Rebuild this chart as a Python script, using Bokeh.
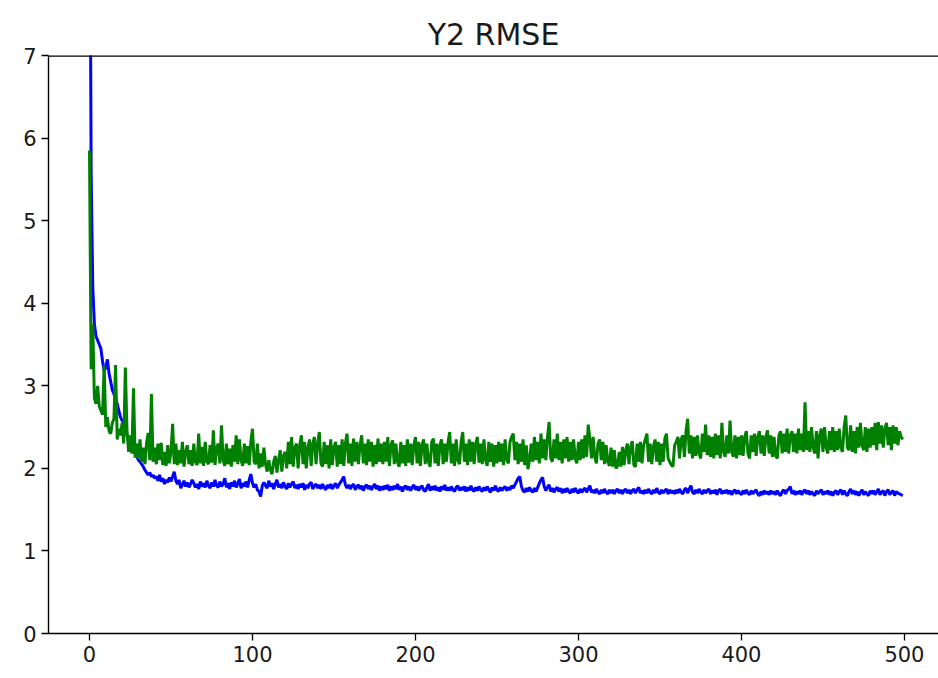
from bokeh.plotting import figure
from bokeh.models import Range1d, FixedTicker, Span
from bokeh.embed import file_html
from bokeh.resources import INLINE

title_text = "Y2 RMSE"
x_ticks = [0, 100, 200, 300, 400, 500]
y_ticks = [0, 1, 2, 3, 4, 5, 6, 7]

train_rmse = [
    10.5, 5.6, 4.2, 3.75, 3.6, 3.55, 3.5, 3.45, 3.3, 3.18, 3.22, 3.32, 3.15, 3.05, 2.95, 2.9, 2.85, 2.78, 2.7, 2.62,
    2.58, 2.55, 2.5, 2.4, 2.32, 2.28, 2.25, 2.2, 2.18, 2.15, 2.1, 2.08, 2.05, 2.02, 1.98, 1.95, 1.92, 1.95, 1.9, 1.92,
    1.88, 1.9, 1.85, 1.92, 1.84, 1.88, 1.81, 1.86, 1.83, 1.89, 1.84, 1.9, 1.96, 1.85, 1.81, 1.86, 1.76, 1.8, 1.85, 1.78,
    1.83, 1.77, 1.81, 1.86, 1.82, 1.77, 1.81, 1.75, 1.84, 1.78, 1.82, 1.77, 1.85, 1.79, 1.76, 1.83, 1.78, 1.86, 1.79, 1.77,
    1.84, 1.78, 1.81, 1.88, 1.77, 1.82, 1.75, 1.83, 1.78, 1.85, 1.77, 1.81, 1.87, 1.76, 1.82, 1.78, 1.84, 1.77, 1.86, 1.93,
    1.82, 1.77, 1.81, 1.74, 1.72, 1.66, 1.79, 1.83, 1.79, 1.76, 1.85, 1.78, 1.82, 1.75, 1.81, 1.86, 1.77, 1.81, 1.76, 1.83,
    1.78, 1.75, 1.82, 1.77, 1.81, 1.84, 1.76, 1.8, 1.75, 1.81, 1.77, 1.82, 1.74, 1.8, 1.76, 1.81, 1.83, 1.75, 1.79, 1.81,
    1.76, 1.8, 1.75, 1.81, 1.77, 1.74, 1.8, 1.76, 1.81, 1.75, 1.79, 1.82, 1.76, 1.8, 1.83, 1.86, 1.9, 1.8, 1.76, 1.8,
    1.75, 1.79, 1.81, 1.74, 1.78, 1.8, 1.75, 1.79, 1.73, 1.78, 1.8, 1.75, 1.79, 1.74, 1.78, 1.81, 1.75, 1.79, 1.73, 1.78,
    1.74, 1.79, 1.75, 1.8, 1.73, 1.78, 1.74, 1.79, 1.75, 1.81, 1.74, 1.78, 1.72, 1.77, 1.79, 1.74, 1.78, 1.73, 1.77, 1.8,
    1.74, 1.78, 1.73, 1.77, 1.79, 1.74, 1.72, 1.77, 1.81, 1.73, 1.78, 1.74, 1.79, 1.73, 1.77, 1.72, 1.78, 1.74, 1.8, 1.73,
    1.77, 1.73, 1.78, 1.74, 1.72, 1.77, 1.79, 1.73, 1.77, 1.74, 1.78, 1.72, 1.77, 1.73, 1.79, 1.74, 1.72, 1.77, 1.73, 1.78,
    1.74, 1.72, 1.77, 1.73, 1.78, 1.74, 1.71, 1.77, 1.73, 1.79, 1.74, 1.72, 1.77, 1.73, 1.76, 1.78, 1.73, 1.77, 1.74, 1.79,
    1.76, 1.8, 1.84, 1.88, 1.9, 1.78, 1.73, 1.71, 1.76, 1.72, 1.77, 1.73, 1.71, 1.76, 1.72, 1.77, 1.82, 1.86, 1.89, 1.78,
    1.73, 1.77, 1.8, 1.72, 1.76, 1.71, 1.75, 1.77, 1.72, 1.76, 1.7, 1.75, 1.71, 1.76, 1.72, 1.7, 1.75, 1.71, 1.76, 1.72,
    1.7, 1.75, 1.71, 1.74, 1.76, 1.71, 1.75, 1.79, 1.71, 1.74, 1.7, 1.75, 1.71, 1.69, 1.74, 1.7, 1.75, 1.71, 1.69, 1.74,
    1.7, 1.74, 1.69, 1.73, 1.75, 1.7, 1.74, 1.69, 1.73, 1.75, 1.7, 1.74, 1.69, 1.73, 1.75, 1.7, 1.74, 1.77, 1.7, 1.73,
    1.69, 1.74, 1.7, 1.75, 1.71, 1.69, 1.74, 1.7, 1.76, 1.71, 1.69, 1.74, 1.7, 1.73, 1.75, 1.69, 1.74, 1.7, 1.73, 1.69,
    1.74, 1.7, 1.75, 1.71, 1.69, 1.74, 1.76, 1.7, 1.75, 1.79, 1.71, 1.69, 1.74, 1.7, 1.75, 1.71, 1.69, 1.74, 1.7, 1.73,
    1.75, 1.69, 1.73, 1.7, 1.74, 1.68, 1.73, 1.75, 1.69, 1.73, 1.7, 1.74, 1.69, 1.73, 1.68, 1.72, 1.74, 1.69, 1.73, 1.7,
    1.68, 1.73, 1.69, 1.74, 1.7, 1.68, 1.73, 1.69, 1.72, 1.74, 1.69, 1.67, 1.72, 1.68, 1.73, 1.69, 1.72, 1.68, 1.73, 1.69,
    1.72, 1.68, 1.73, 1.69, 1.67, 1.72, 1.74, 1.69, 1.73, 1.75, 1.78, 1.69, 1.73, 1.68, 1.72, 1.69, 1.73, 1.68, 1.72, 1.74,
    1.69, 1.73, 1.68, 1.72, 1.69, 1.67, 1.73, 1.69, 1.72, 1.74, 1.68, 1.72, 1.69, 1.73, 1.68, 1.72, 1.67, 1.71, 1.73, 1.68,
    1.72, 1.74, 1.68, 1.73, 1.69, 1.67, 1.72, 1.75, 1.69, 1.73, 1.68, 1.72, 1.67, 1.71, 1.74, 1.68, 1.72, 1.69, 1.67, 1.73,
    1.69, 1.73, 1.68, 1.72, 1.75, 1.68, 1.71, 1.73, 1.67, 1.72, 1.74, 1.68, 1.71, 1.73, 1.67, 1.72, 1.7, 1.69, 1.68, 1.67,
]

val_rmse = [
    5.85, 3.2, 3.75, 2.85, 2.78, 3.0, 2.75, 2.7, 2.65, 3.25, 2.5, 2.62, 2.45, 2.42, 2.55, 2.6, 3.25, 2.35, 2.48, 2.4,
    2.55, 2.3, 3.22, 2.46, 2.2, 2.4, 2.18, 2.97, 2.13, 2.3, 2.12, 2.35, 2.08, 2.25, 2.05, 2.3, 2.43, 2.1, 2.9, 2.08,
    2.25, 2.05, 2.3, 2.1, 2.31, 2.04, 2.2, 2.03, 2.28, 2.06, 2.2, 2.54, 2.05, 2.3, 2.04, 2.22, 2.06, 2.32, 2.02, 2.2,
    2.28, 2.05, 2.22, 2.03, 2.3, 2.08, 2.04, 2.42, 2.06, 2.26, 2.03, 2.32, 2.08, 2.05, 2.28, 2.07, 2.46, 2.04, 2.25, 2.3,
    2.06, 2.52, 2.1, 2.03, 2.3, 2.05, 2.24, 2.02, 2.28, 2.08, 2.4, 2.05, 2.35, 2.1, 2.03, 2.3, 2.06, 2.27, 2.04, 2.32,
    2.48, 2.08, 2.05, 2.3, 2.0, 2.18, 2.02, 2.25, 2.05, 1.96, 2.1, 1.98, 1.93, 2.08, 2.15, 1.95, 2.1, 2.22, 1.96, 2.15,
    2.2, 2.0, 2.32, 2.05, 2.38, 2.02, 2.25, 2.3, 2.0, 2.28, 2.4, 2.05, 2.32, 2.0, 2.25, 2.35, 2.03, 2.3, 2.38, 2.05,
    2.3, 2.44, 2.06, 2.02, 2.32, 2.05, 2.28, 2.0, 2.35, 2.04, 2.25, 2.32, 2.02, 2.28, 2.05, 2.35, 2.03, 2.3, 2.42, 2.06,
    2.3, 2.03, 2.36, 2.08, 2.32, 2.05, 2.28, 2.4, 2.06, 2.3, 2.04, 2.35, 2.08, 2.32, 2.02, 2.28, 2.05, 2.36, 2.08, 2.3,
    2.05, 2.32, 2.08, 2.38, 2.03, 2.28, 2.34, 2.05, 2.3, 2.08, 2.02, 2.32, 2.06, 2.28, 2.03, 2.35, 2.07, 2.3, 2.04, 2.28,
    2.38, 2.06, 2.32, 2.03, 2.28, 2.35, 2.05, 2.3, 2.08, 2.02, 2.32, 2.36, 2.06, 2.3, 2.03, 2.28, 2.35, 2.05, 2.3, 2.08,
    2.32, 2.44, 2.06, 2.3, 2.03, 2.35, 2.1, 2.05, 2.32, 2.44, 2.08, 2.3, 2.04, 2.35, 2.08, 2.32, 2.05, 2.3, 2.38, 2.07,
    2.3, 2.05, 2.35, 2.1, 2.03, 2.32, 2.08, 2.3, 2.02, 2.28, 2.06, 2.32, 2.08, 2.3, 2.04, 2.35, 2.1, 2.06, 2.32, 2.38,
    2.42, 2.1, 2.32, 2.05, 2.3, 2.08, 2.35, 2.04, 2.28, 1.99, 2.1, 2.3, 2.08, 2.38, 2.1, 2.32, 2.06, 2.42, 2.12, 2.35,
    2.1, 2.38, 2.56, 2.12, 2.08, 2.35, 2.12, 2.42, 2.1, 2.32, 2.06, 2.35, 2.12, 2.38, 2.08, 2.32, 2.1, 2.35, 2.12, 2.06,
    2.32, 2.1, 2.35, 2.12, 2.4, 2.14, 2.53, 2.35, 2.12, 2.38, 2.14, 2.06, 2.3, 2.35, 2.1, 2.32, 2.05, 2.28, 2.08, 2.03,
    2.25, 2.02, 2.22, 2.0, 2.03, 2.2, 2.02, 2.26, 2.04, 2.22, 2.3, 2.05, 2.26, 2.33, 2.04, 2.02, 2.3, 2.08, 2.32, 2.06,
    2.28, 2.35, 2.42, 2.08, 2.3, 2.05, 2.26, 2.35, 2.08, 2.32, 2.04, 2.3, 2.08, 2.36, 2.42, 2.12, 2.08, 2.04, 2.02, 2.28,
    2.32, 2.38, 2.12, 2.35, 2.4, 2.14, 2.45, 2.6, 2.18, 2.4, 2.12, 2.38, 2.15, 2.4, 2.18, 2.12, 2.42, 2.2, 2.53, 2.16,
    2.4, 2.14, 2.38, 2.12, 2.42, 2.16, 2.4, 2.12, 2.55, 2.2, 2.14, 2.4, 2.18, 2.58, 2.2, 2.14, 2.4, 2.12, 2.38, 2.16,
    2.4, 2.15, 2.38, 2.45, 2.18, 2.12, 2.4, 2.2, 2.42, 2.15, 2.38, 2.45, 2.18, 2.4, 2.15, 2.38, 2.46, 2.18, 2.4, 2.14,
    2.38, 2.15, 2.12, 2.4, 2.45, 2.18, 2.42, 2.2, 2.48, 2.18, 2.4, 2.45, 2.2, 2.42, 2.18, 2.48, 2.22, 2.42, 2.2, 2.8,
    2.22, 2.45, 2.2, 2.5, 2.25, 2.18, 2.45, 2.12, 2.4, 2.48, 2.2, 2.5, 2.25, 2.18, 2.45, 2.22, 2.5, 2.2, 2.45, 2.22,
    2.48, 2.25, 2.2, 2.5, 2.64, 2.25, 2.22, 2.52, 2.2, 2.45, 2.18, 2.5, 2.25, 2.55, 2.28, 2.22, 2.5, 2.2, 2.48, 2.25,
    2.5, 2.28, 2.55, 2.22, 2.56, 2.3, 2.52, 2.25, 2.48, 2.55, 2.28, 2.5, 2.22, 2.52, 2.3, 2.5, 2.28, 2.45, 2.38, 2.35,
]

epochs = list(range(len(train_rmse)))

p = figure(width=938, height=678, output_backend="svg", toolbar_location=None,
           x_range=Range1d(-25.15, 520.9), y_range=Range1d(0, 7),
           min_border_left=48, min_border_right=0, min_border_top=55, min_border_bottom=45)

p.title.text = title_text
p.title.align = "center"
p.title.text_font = "DejaVu Sans"
p.title.text_font_style = "normal"
p.title.text_font_size = "30px"
p.title.text_color = "#1a1a1a"
p.title.standoff = 8

p.line(epochs, train_rmse, line_color="#0000ff", line_width=3)
p.line(epochs, val_rmse, line_color="#008000", line_width=3)

p.xgrid.visible = False
p.ygrid.visible = False
p.outline_line_color = None

top_spine = Span(location=7, dimension="width", line_color="black", line_width=2.6)
p.add_layout(top_spine)

for ax in (p.xaxis[0], p.yaxis[0]):
    ax.axis_line_color = "black"
    ax.axis_line_width = 1.4
    ax.major_tick_line_color = "black"
    ax.major_tick_line_width = 1.3
    ax.major_tick_out = 7
    ax.major_tick_in = 0
    ax.minor_tick_line_color = None
    ax.major_label_text_font = "DejaVu Sans"
    ax.major_label_text_font_size = "21px"
    ax.major_label_text_color = "#1a1a1a"
    ax.major_label_standoff = 5

p.xaxis.ticker = FixedTicker(ticks=x_ticks)
p.yaxis.ticker = FixedTicker(ticks=y_ticks)

open("out.html", "w").write(file_html(p, INLINE))
